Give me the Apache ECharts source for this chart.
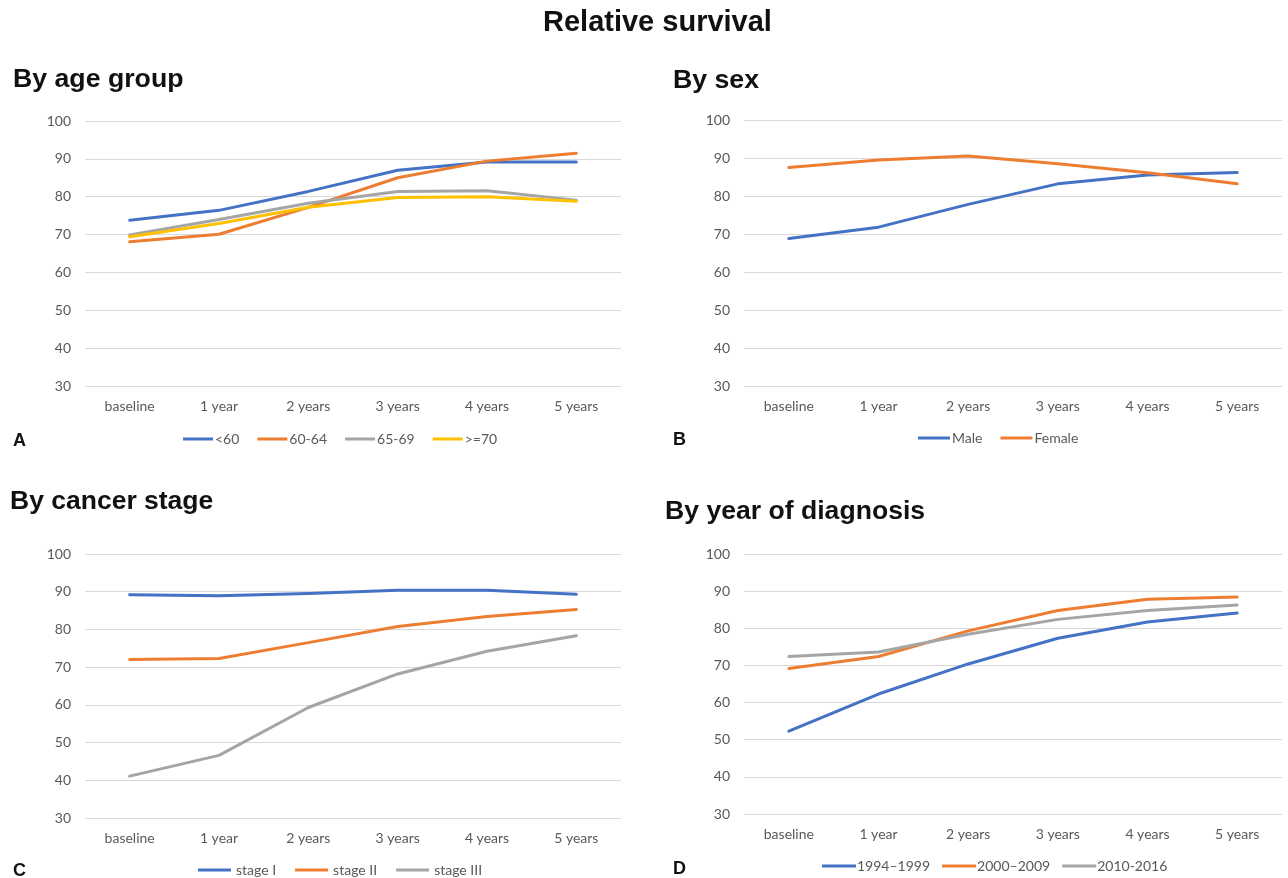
<!DOCTYPE html>
<html>
<head>
<meta charset="utf-8">
<title>Relative survival</title>
<script src="https://cdn.jsdelivr.net/npm/echarts@6/dist/echarts.min.js"></script>
<style>
  html, body { margin: 0; padding: 0; background: #ffffff; }
  #chart { width: 1288px; height: 878px; }
</style>
</head>
<body>
<div id="chart"></div>
<script>
// Follow-up points shared by all four panels
const categories = ['baseline', '1 year', '2 years', '3 years', '4 years', '5 years'];
const yTicks = { min: 30, max: 100, interval: 10 };

// A: by age group
const ageUnder60 = [73.8, 76.4, 81.4, 87.0, 89.2, 89.2];
const age60to64 = [68.1, 70.1, 77.2, 85.0, 89.4, 91.5];
const age65to69 = [69.9, 74.0, 78.3, 81.4, 81.6, 79.1];
const age70plus = [69.4, 72.9, 77.2, 79.8, 80.0, 78.8];

// B: by sex
const male = [68.8, 71.8, 77.8, 83.2, 85.5, 86.2];
const female = [87.5, 89.5, 90.5, 88.5, 86.1, 83.2];

// C: by cancer stage
const stageI = [89.2, 88.9, 89.5, 90.4, 90.4, 89.3];
const stageII = [72.0, 72.3, 76.5, 80.8, 83.4, 85.3];
const stageIII = [41.1, 46.6, 59.3, 68.2, 74.2, 78.3];

// D: by year of diagnosis
const diag1994 = [52.3, 62.3, 70.4, 77.3, 81.7, 84.1];
const diag2000 = [69.2, 72.4, 79.3, 84.8, 87.8, 88.4];
const diag2010 = [72.4, 73.6, 78.4, 82.4, 84.8, 86.3];

const BLUE = '#4472C4', ORANGE = '#ED7D31', GREY = '#A5A5A5', GOLD = '#FFC000';
const LABEL_FONT = 'Lato, "Open Sans", sans-serif';
const HEAD_FONT = '"Liberation Sans", Arial, sans-serif';
const LABEL_COLOR = '#595959';

// panel frames: plot box in pixels
const panels = [
  { left: 85,  top: 121, width: 536, height: 265 },
  { left: 744, top: 120, width: 538, height: 266 },
  { left: 85,  top: 554, width: 536, height: 264 },
  { left: 744, top: 554, width: 538, height: 260 }
];

const grids = panels.map(p => ({ left: p.left, top: p.top, width: p.width, height: p.height, containLabel: false }));

const xAxes = panels.map((p, i) => ({
  type: 'category',
  gridIndex: i,
  data: categories,
  boundaryGap: true,
  axisLine: { show: false },
  axisTick: { show: false },
  axisLabel: { color: LABEL_COLOR, fontFamily: LABEL_FONT, fontSize: 14, margin: 13 }
}));

const yAxes = panels.map((p, i) => ({
  type: 'value',
  gridIndex: i,
  min: yTicks.min,
  max: yTicks.max,
  interval: yTicks.interval,
  axisLine: { show: false },
  axisTick: { show: false },
  axisLabel: { color: LABEL_COLOR, fontFamily: LABEL_FONT, fontSize: 14, margin: 14 },
  splitLine: { lineStyle: { color: '#D9D9D9', width: 1 } }
}));

function line(name, data, color, idx) {
  return {
    name: name,
    type: 'line',
    data: data,
    xAxisIndex: idx,
    yAxisIndex: idx,
    symbol: 'none',
    smooth: false,
    color: color,
    lineStyle: { color: color, width: 3, cap: 'round', join: 'round' },
    emphasis: { disabled: true },
    animation: false
  };
}

const series = [
  line('<60', ageUnder60, BLUE, 0),
  line('60-64', age60to64, ORANGE, 0),
  line('65-69', age65to69, GREY, 0),
  line('>=70', age70plus, GOLD, 0),
  line('Male', male, BLUE, 1),
  line('Female', female, ORANGE, 1),
  line('stage I', stageI, BLUE, 2),
  line('stage II', stageII, ORANGE, 2),
  line('stage III', stageIII, GREY, 2),
  line('1994\u20131999', diag1994, BLUE, 3),
  line('2000\u20132009', diag2000, ORANGE, 3),
  line('2010-2016', diag2010, GREY, 3)
];

function legend(names, left, top, gap, width, textGap) {
  return {
    data: names,
    left: left,
    top: top,
    orient: 'horizontal',
    icon: 'rect',
    itemWidth: width,
    itemHeight: 3,
    itemGap: gap,
    padding: 0,
    selectedMode: false,
    textStyle: { color: LABEL_COLOR, fontFamily: LABEL_FONT, fontSize: 14, padding: [0, 0, 0, textGap] }
  };
}

const legends = [
  legend(['<60', '60-64', '65-69', '>=70'], 183, 432, 18, 30, -3),
  legend(['Male', 'Female'], 918, 431, 18, 32, -3),
  legend(['stage I', 'stage II', 'stage III'], 198, 863, 19, 33, 0),
  legend(['1994\u20131999', '2000\u20132009', '2010-2016'], 822, 859, 12, 34, -4)
];

function heading(text, left, top, size) {
  return { text: text, left: left, top: top, padding: 0,
    textStyle: { fontFamily: HEAD_FONT, fontWeight: 'bold', fontSize: size, color: '#111111' } };
}

const titles = [
  heading('Relative survival', 543, 8, 29),
  heading('By age group', 13, 66, 26.7),
  heading('By sex', 673, 67, 26.7),
  heading('By cancer stage', 10, 488, 26.5),
  heading('By year of diagnosis', 665, 498, 26.6),
  heading('A', 13, 432, 18),
  heading('B', 673, 431, 18),
  heading('C', 13, 862, 18),
  heading('D', 673, 860, 18)
];

const chart = echarts.init(document.getElementById('chart'), null, { renderer: 'canvas' });
chart.setOption({
  backgroundColor: '#ffffff',
  animation: false,
  title: titles,
  legend: legends,
  grid: grids,
  xAxis: xAxes,
  yAxis: yAxes,
  series: series
});
</script>
</body>
</html>
